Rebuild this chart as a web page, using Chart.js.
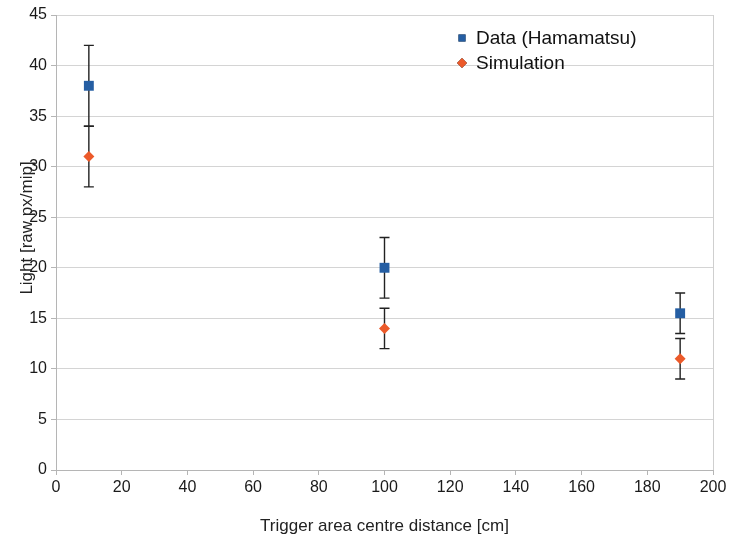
<!DOCTYPE html>
<html>
<head>
<meta charset="utf-8">
<script src="https://cdn.jsdelivr.net/npm/chart.js@4/dist/chart.umd.min.js"></script>
<style>
  html, body { margin: 0; padding: 0; background: #fff; }
  #wrap { width: 730px; height: 536px; }
</style>
</head>
<body>
<div id="wrap"><canvas id="lightChart" width="730" height="536"></canvas></div>
<script>
// Light yield vs trigger position
const distances = [10, 100, 190];
const dataValues = [38, 20, 15.5];
const dataErrLow = [34, 17, 13.5];
const dataErrHigh = [42, 23, 17.5];
const simValues = [31, 14, 11];
const simErrLow = [28, 12, 9];
const simErrHigh = [34, 16, 13];
const xTicks = [0, 20, 40, 60, 80, 100, 120, 140, 160, 180, 200];
const yTicks = [0, 5, 10, 15, 20, 25, 30, 35, 40, 45];

const FONT = "'Liberation Sans', Arial, sans-serif";

// error bars drawn under the markers
const errorBars = {
    id: 'errorBars',
    beforeDatasetsDraw(chart) {
        const ctx = chart.ctx;
        const xs = chart.scales.x, ys = chart.scales.y;
        ctx.save();
        ctx.strokeStyle = '#222';
        ctx.lineWidth = 1.4;
        chart.data.datasets.forEach(ds => {
            ds.data.forEach((p, i) => {
                const x = xs.getPixelForValue(p.x);
                const y1 = ys.getPixelForValue(ds.errLow[i]);
                const y2 = ys.getPixelForValue(ds.errHigh[i]);
                ctx.beginPath();
                ctx.moveTo(x, y1); ctx.lineTo(x, y2);
                ctx.moveTo(x - 5, y1); ctx.lineTo(x + 5, y1);
                ctx.moveTo(x - 5, y2); ctx.lineTo(x + 5, y2);
                ctx.stroke();
            });
        });
        ctx.restore();
    }
};

// axis titles and legend
const extras = {
    id: 'extras',
    afterDraw(chart) {
        const ctx = chart.ctx;
        const area = chart.chartArea;
        ctx.save();
        ctx.fillStyle = '#222';
        ctx.font = '17px ' + FONT;
        ctx.textAlign = 'center';
        ctx.textBaseline = 'middle';
        ctx.fillText('Trigger area centre distance [cm]', (area.left + area.right) / 2, 526);
        ctx.save();
        ctx.translate(27, 228);
        ctx.rotate(-Math.PI / 2);
        ctx.fillText('Light [raw px/mip]', 0, 0);
        ctx.restore();

        // legend
        ctx.font = '19px ' + FONT;
        ctx.textAlign = 'left';
        chart.data.datasets.forEach((ds, i) => {
            const y = 38 + i * 25;
            Chart.helpers.drawPoint(ctx, {
                pointStyle: ds.pointStyle,
                radius: ds.legendRadius,
                borderWidth: 0
            }, 462, y);
            ctx.fillStyle = ds.backgroundColor;
            ctx.fill();
            ctx.fillStyle = '#111';
            ctx.fillText(ds.label, 476, y + 1);
        });
        ctx.restore();
    }
};

new Chart(document.getElementById('lightChart'), {
    type: 'scatter',
    data: {
        datasets: [{
            label: 'Data (Hamamatsu)',
            data: distances.map((d, i) => ({ x: d, y: dataValues[i] })),
            errLow: dataErrLow,
            errHigh: dataErrHigh,
            pointStyle: 'rect',
            pointRadius: 7,
            legendRadius: 5,
            backgroundColor: '#255ea3',
            borderColor: '#255ea3',
            borderWidth: 0
        }, {
            label: 'Simulation',
            data: distances.map((d, i) => ({ x: d, y: simValues[i] })),
            errLow: simErrLow,
            errHigh: simErrHigh,
            pointStyle: 'rectRot',
            pointRadius: 5.5,
            legendRadius: 5,
            backgroundColor: '#ec5a2a',
            borderColor: '#ec5a2a',
            borderWidth: 0
        }]
    },
    options: {
        responsive: false,
        animation: false,
        layout: { padding: { top: 15, right: 17, left: 0, bottom: 0 } },
        plugins: {
            legend: { display: false },
            tooltip: { enabled: false }
        },
        scales: {
            x: {
                type: 'linear',
                min: 0,
                max: 200,
                afterBuildTicks: s => { s.ticks = xTicks.map(v => ({ value: v })); },
                afterFit: s => { s.height = 66; },
                grid: {
                    color: c => c.tick && c.tick.value === 200 ? '#cfcfcf' : 'rgba(0,0,0,0)',
                    tickColor: '#b5b5b5',
                    tickLength: 5,
                    lineWidth: 1
                },
                border: { color: '#b5b5b5' },
                ticks: { color: '#1a1a1a', font: { family: FONT, size: 16 }, padding: 3, maxRotation: 0 }
            },
            y: {
                min: 0,
                max: 45,
                afterBuildTicks: s => { s.ticks = yTicks.map(v => ({ value: v })); },
                afterFit: s => { s.width = 56; },
                grid: {
                    color: '#d4d4d4',
                    tickColor: '#b5b5b5',
                    tickLength: 5,
                    lineWidth: 1
                },
                border: { color: '#b5b5b5' },
                ticks: { color: '#1a1a1a', font: { family: FONT, size: 16 }, padding: 4 }
            }
        }
    },
    plugins: [errorBars, extras]
});
</script>
</body>
</html>
